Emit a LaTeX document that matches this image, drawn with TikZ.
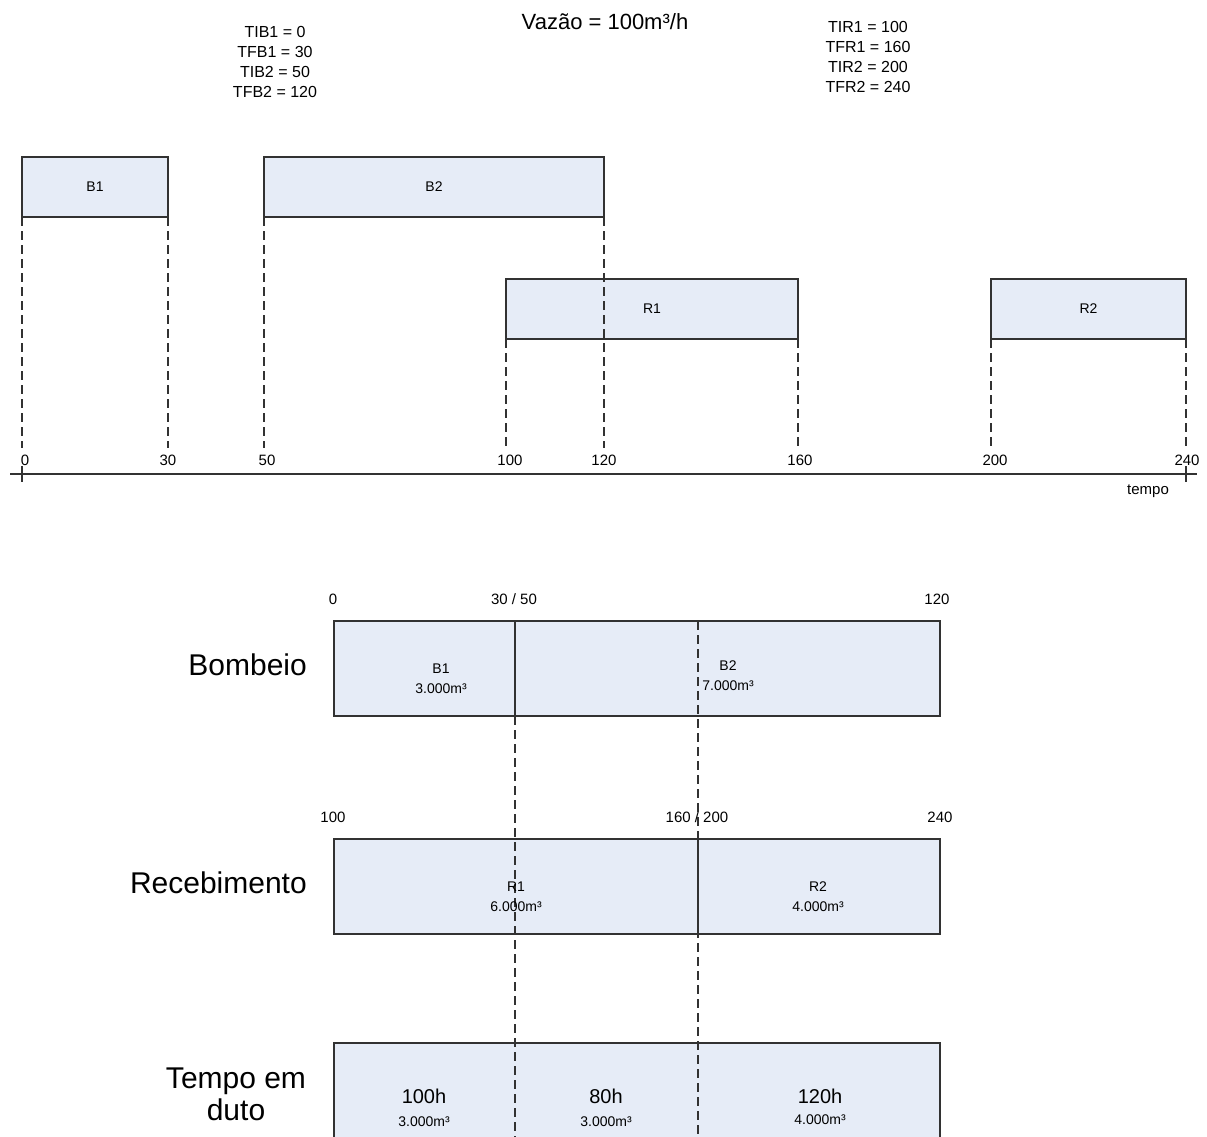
\documentclass[tikz,border=0pt]{standalone}
\usepackage{fontspec}
\setmainfont{Liberation Sans}
\usetikzlibrary{positioning}
\definecolor{barfill}{RGB}{230,236,247}
\definecolor{barline}{RGB}{50,50,50}

\begin{document}
\begin{tikzpicture}[
  x=1pt,y=-1pt,
  bar/.style={draw=barline,fill=barfill,line width=1.7pt,anchor=north west,minimum height=60pt,inner sep=0pt,outer sep=0pt,font=\fontsize{14}{16}\selectfont},
  wide/.style={draw=barline,fill=barfill,line width=1.7pt,anchor=north west,minimum width=606pt,minimum height=95pt,inner sep=0pt,outer sep=0pt},
  guide/.style={barline,line width=1.5pt,dash pattern=on 9pt off 5pt},
  divider/.style={barline,line width=1.6pt},
  axis/.style={barline,line width=1.5pt},
  tick/.style={font=\fontsize{15}{17}\selectfont,inner sep=1pt},
  params/.style={align=center,font=\fontsize{16}{20}\selectfont,inner sep=0pt},
  cell/.style={align=center,font=\fontsize{14}{20}\selectfont,inner sep=0pt},
  hours/.style={font=\fontsize{20}{22}\selectfont,inner sep=0pt},
  row/.style={align=center,font=\fontsize{30}{32}\selectfont,inner sep=0pt}
]
\useasboundingbox (0,0) rectangle (1207,1137);
\clip (0,0) rectangle (1207,1137);

% header
\node[font=\fontsize{22}{24}\selectfont] (vazao) at (605,22) {Vazão = 100m³/h};
\node[params] (tb) at (275,62) {TIB1 = 0\\TFB1 = 30\\TIB2 = 50\\TFB2 = 120};
\node[params] (tr) at (868,57) {TIR1 = 100\\TFR1 = 160\\TIR2 = 200\\TFR2 = 240};

% time line
\node[bar,minimum width=146pt] (b1) at (22,157) {B1};
\node[bar,minimum width=340pt] (b2) at (264,157) {B2};
\node[bar,minimum width=292pt] (r1) at (506,279) {R1};
\node[bar,minimum width=195pt] (r2) at (991,279) {R2};

\foreach \n/\x in {0/22,30/168,50/264,100/506,120/604,160/798,200/991,240/1186}
  \coordinate (g\n) at (\x,448);
\draw[guide] (b1.south west) -- (g0);
\draw[guide] (b1.south east) -- (g30);
\draw[guide] (b2.south west) -- (g50);
\draw[guide] (b2.south east) -- (g120);
\draw[guide] (r1.south west) -- (g100);
\draw[guide] (r1.south east) -- (g160);
\draw[guide] (r2.south west) -- (g200);
\draw[guide] (r2.south east) -- (g240);

\foreach \v/\x in {0/25,30/168,50/267,100/510,120/604,160/800,200/995,240/1187}
  \node[tick] (n\v) at (\x,460) {\v};

\coordinate (a0) at (10,474);
\coordinate (a1) at (1197,474);
\draw[axis] (a0) -- (a1);
\draw[axis] (22,466) -- (22,482);
\draw[axis] (1186,466) -- (1186,482);
\node[tick] (tempo) at (1148,491) {tempo};

% volumes
\node[row,anchor=east] (lbomb) at (307,665) {Bombeio};
\node[row,anchor=east] (lrec) at (307,883) {Recebimento};
\node[row] (lduto) at (236,1094) {Tempo em\\duto};

\node[wide] (bomb) at (334,621) {};
\node[wide] (rec) at (334,839) {};
\node[wide,minimum height=130pt] (duto) at (334,1043) {};

\coordinate (cut1) at (515,716);
\coordinate (cut1e) at (515,1150);
\coordinate (cut2) at (698,621);
\coordinate (cut2e) at (698,1150);
\draw[guide] (cut1) -- (cut1e);
\draw[divider] (515,621) -- (cut1);
\draw[divider] (698,839) -- (698,934);

\node[tick] (t0) at (333,599) {0};
\node[tick] (t30) at (514,599) {30 / 50};
\node[tick] (t120) at (937,599) {120};
\node[tick] (t100) at (333,817) {100};
\node[tick] (t160) at (697,817) {160 / 200};
\node[tick] (t240) at (940,817) {240};
\draw[guide] (cut2) -- (cut2e);

\node[cell] (vb1) at (441,679) {B1\\3.000m³};
\node[cell] (vb2) at (728,676) {B2\\7.000m³};
\node[cell] (vr1) at (516,897) {R1\\6.000m³};
\node[cell] (vr2) at (818,897) {R2\\4.000m³};

\node[hours] (h1) at (424,1096) {100h};
\node[hours] (h2) at (606,1096) {80h};
\node[hours] (h3) at (820,1096) {120h};
\node[cell] (m1) at (424,1122) {3.000m³};
\node[cell] (m2) at (606,1122) {3.000m³};
\node[cell] (m3) at (820,1120) {4.000m³};
\end{tikzpicture}
\end{document}
